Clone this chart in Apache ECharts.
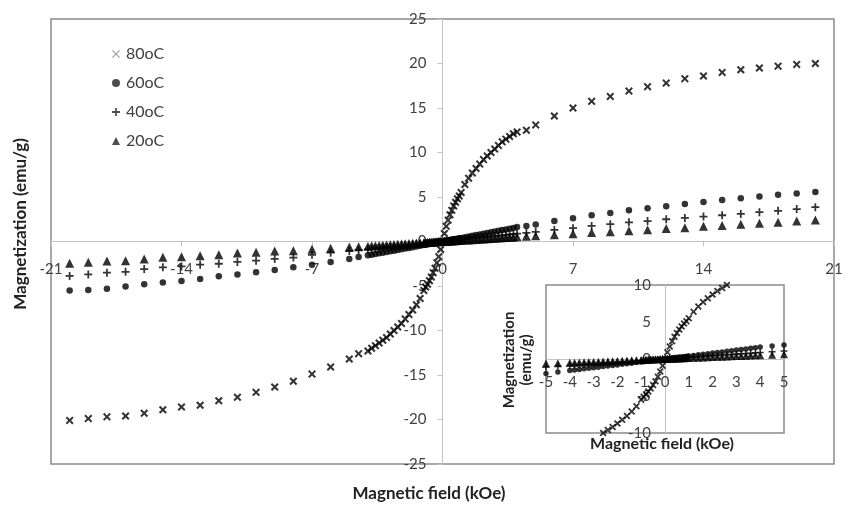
<!DOCTYPE html>
<html>
<head>
<meta charset="utf-8">
<script src="https://cdn.jsdelivr.net/npm/echarts@6/dist/echarts.min.js"></script>
<style>html,body{margin:0;padding:0;background:#fff}#c{width:850px;height:506px}</style>
</head>
<body>
<div id="c"></div>
<script>
// Magnetic field (kOe)
var H = [-20,-19,-18,-17,-16,-15,-14,-13,-12,-11,-10,-9,-8,-7,-6,-5,-4.5,
  -4,-3.8,-3.6,-3.4,-3.2,-3,-2.8,-2.6,-2.4,-2.2,-2,-1.8,-1.6,-1.4,-1.2,
  -1,-0.9,-0.8,-0.7,-0.6,-0.5,-0.4,-0.3,-0.2,-0.1,0,0.1,0.2,0.3,0.4,0.5,0.6,0.7,0.8,0.9,1,
  1.2,1.4,1.6,1.8,2,2.2,2.4,2.6,2.8,3,3.2,3.4,3.6,3.8,4,
  4.5,5,6,7,8,9,10,11,12,13,14,15,16,17,18,19,20];

// Magnetization (emu/g)
var M80 = [-20.1,-19.9,-19.7,-19.6,-19.3,-18.9,-18.6,-18.4,-17.9,-17.5,-16.95,-16.35,-15.7,-14.9,-14.1,-13.2,-12.6,
  -12.3,-12.0,-11.7,-11.4,-11.1,-10.8,-10.4,-10.0,-9.6,-9.2,-8.7,-8.2,-7.7,-7.1,-6.4,
  -5.5,-5.1,-4.8,-4.4,-4.0,-3.5,-3.0,-2.4,-1.7,-0.9,0,0.9,1.7,2.4,3.0,3.5,4.0,4.4,4.8,5.1,5.5,
  6.4,7.1,7.7,8.2,8.7,9.2,9.6,10.0,10.4,10.8,11.2,11.5,11.8,12.1,12.3,
  12.5,13.1,14.1,15.0,15.75,16.3,16.9,17.4,17.8,18.3,18.6,19.0,19.3,19.5,19.7,19.9,20.0];
var M60 = [-5.5,-5.44,-5.3,-5.07,-4.8,-4.6,-4.43,-4.2,-3.9,-3.7,-3.45,-3.2,-2.9,-2.6,-2.3,-1.96,-1.75,
  -1.55,-1.48,-1.41,-1.33,-1.26,-1.18,-1.1,-1.03,-0.95,-0.87,-0.8,-0.72,-0.64,-0.56,-0.48,
  -0.4,-0.36,-0.32,-0.28,-0.24,-0.2,-0.16,-0.12,-0.08,-0.04,0,0.04,0.08,0.12,0.16,0.2,0.24,0.28,0.32,0.36,0.4,
  0.48,0.56,0.64,0.72,0.8,0.88,0.96,1.04,1.12,1.2,1.28,1.36,1.44,1.52,1.62,
  1.75,1.9,2.3,2.6,2.95,3.2,3.5,3.75,3.95,4.2,4.45,4.65,4.85,5.05,5.25,5.4,5.55];
var M40 = [-3.87,-3.7,-3.5,-3.4,-3.1,-2.9,-2.8,-2.6,-2.5,-2.3,-2.15,-1.96,-1.8,-1.5,-1.25,-1.07,-0.95,
  -0.88,-0.84,-0.79,-0.75,-0.7,-0.66,-0.62,-0.57,-0.53,-0.48,-0.44,-0.4,-0.35,-0.31,-0.26,
  -0.22,-0.2,-0.18,-0.15,-0.13,-0.11,-0.09,-0.07,-0.04,-0.02,0,0.02,0.04,0.07,0.09,0.11,0.13,0.15,0.18,0.2,0.22,
  0.26,0.31,0.35,0.4,0.44,0.48,0.53,0.57,0.62,0.66,0.7,0.75,0.79,0.84,0.88,
  0.97,1.08,1.3,1.5,1.75,1.95,2.15,2.3,2.5,2.65,2.8,2.95,3.1,3.3,3.45,3.65,3.85];
var M20 = [-2.45,-2.33,-2.2,-2.15,-1.96,-1.77,-1.7,-1.6,-1.5,-1.3,-1.2,-1.07,-1.03,-0.87,-0.76,-0.62,-0.58,
  -0.52,-0.49,-0.47,-0.44,-0.42,-0.39,-0.36,-0.34,-0.31,-0.29,-0.26,-0.23,-0.21,-0.18,-0.16,
  -0.13,-0.12,-0.1,-0.09,-0.08,-0.07,-0.05,-0.04,-0.03,-0.01,0,0.01,0.03,0.04,0.05,0.07,0.08,0.09,0.1,0.12,0.13,
  0.16,0.18,0.21,0.23,0.26,0.29,0.31,0.34,0.36,0.39,0.42,0.44,0.47,0.49,0.52,
  0.58,0.64,0.76,0.87,1.0,1.1,1.2,1.32,1.45,1.55,1.7,1.8,1.95,2.05,2.15,2.3,2.42];

var seriesNames = ['80oC','60oC','40oC','20oC'];
var seriesValues = [M80, M60, M40, M20];

var FONT = 'Lato';
var symX = 'path://M0,1.8 L1.8,0 L5,3.2 L8.2,0 L10,1.8 L6.8,5 L10,8.2 L8.2,10 L5,6.8 L1.8,10 L0,8.2 L3.2,5 Z';
var symXthin = 'path://M0,1 L1,0 L5,4 L9,0 L10,1 L6,5 L10,9 L9,10 L5,6 L1,10 L0,9 L4,5 Z';
var symPlus = 'path://M3.9,0 H6.1 V3.9 H10 V6.1 H6.1 V10 H3.9 V6.1 H0 V3.9 H3.9 Z';
var symbols = [symX, 'circle', symPlus, 'triangle'];
var legendIcons = [symXthin, 'circle', symPlus, 'triangle'];
var sizes = [8, 6.5, 8, 9];

function pairs(vals){ return H.map(function(h,i){ return [h, vals[i]]; }); }

var series = [];
[3,2,1,0].forEach(function(k){
  series.push({
    name: seriesNames[k], type: 'scatter', xAxisIndex: 0, yAxisIndex: 0,
    data: pairs(seriesValues[k]), symbol: symbols[k], symbolSize: sizes[k],
    itemStyle: {color: '#000'}, clip: true, silent: true, z: 2
  });
});
[3,2,1,0].forEach(function(k){
  series.push({
    name: seriesNames[k], type: 'scatter', xAxisIndex: 1, yAxisIndex: 1,
    data: pairs(seriesValues[k]), symbol: symbols[k], symbolSize: sizes[k] - 1,
    itemStyle: {color: '#000'}, clip: true, silent: true, z: 5
  });
});

var axisLabelStyle = {fontFamily: FONT, fontSize: 15, color: '#404040'};

var chart = echarts.init(document.getElementById('c'), null, {renderer: 'canvas'});
chart.setOption({
  animation: false,
  backgroundColor: '#fff',
  textStyle: {fontFamily: FONT},
  legend: {
    orient: 'vertical', left: 107, top: 41,
    data: seriesNames.map(function(n, k){ return {name: n, icon: legendIcons[k], itemStyle: {color: k === 0 ? '#888' : '#222'}}; }),
    itemWidth: 8, itemHeight: 8, itemGap: 13,
    textStyle: {fontFamily: FONT, fontSize: 16, color: '#404040', lineHeight: 15, padding: [0,0,0,1]},
    selectedMode: false
  },
  grid: [
    {left: 51, top: 19, width: 783, height: 445, show: true, borderColor: '#8a8a8a', borderWidth: 1.5, backgroundColor: '#fff', z: 0},
    {left: 546, top: 285, width: 238, height: 148, show: true, borderColor: '#8a8a8a', borderWidth: 1.5, backgroundColor: '#fff', z: 3}
  ],
  xAxis: [
    {type: 'value', gridIndex: 0, min: -21, max: 21, interval: 7, position: 'bottom', offset: -222.5,
     axisLine: {onZero: false, lineStyle: {color: '#c4c4c4', width: 1}},
     axisTick: {show: true, length: 5, lineStyle: {color: '#c4c4c4'}},
     axisLabel: Object.assign({margin: 20, showMinLabel: true, showMaxLabel: true}, axisLabelStyle),
     splitLine: {show: false}},
    {type: 'value', gridIndex: 1, min: -5, max: 5, interval: 1, position: 'bottom', offset: -74,
     axisLine: {onZero: false, lineStyle: {color: '#c4c4c4', width: 1}},
     axisTick: {show: false},
     axisLabel: Object.assign({margin: 16, showMinLabel: true, showMaxLabel: true}, axisLabelStyle),
     splitLine: {show: false}, z: 4}
  ],
  yAxis: [
    {type: 'value', gridIndex: 0, min: -25, max: 25, interval: 5, position: 'left', offset: -391.5,
     axisLine: {onZero: false, lineStyle: {color: '#c4c4c4', width: 1}},
     axisTick: {show: true, length: 5, lineStyle: {color: '#c4c4c4'}},
     axisLabel: Object.assign({margin: 16}, axisLabelStyle),
     splitLine: {show: false}},
    {type: 'value', gridIndex: 1, min: -10, max: 10, interval: 5, position: 'left', offset: -119,
     axisLine: {onZero: false, lineStyle: {color: '#c4c4c4', width: 1}},
     axisTick: {show: false},
     axisLabel: Object.assign({margin: 14}, axisLabelStyle),
     splitLine: {show: false}, z: 4}
  ],
  graphic: [
    {type: 'text', x: 21, y: 224, rotation: Math.PI / 2, z: 10,
     style: {text: 'Magnetization (emu/g)', font: 'bold 17px ' + FONT, fill: '#222', align: 'center', verticalAlign: 'middle'}},
    {type: 'text', x: 429, y: 494, z: 10,
     style: {text: 'Magnetic field (kOe)', font: 'bold 17px ' + FONT, fill: '#222', align: 'center', verticalAlign: 'middle'}},
    {type: 'text', x: 518, y: 360, rotation: Math.PI / 2, z: 10,
     style: {text: 'Magnetization\n(emu/g)', font: 'bold 15px ' + FONT, fill: '#222', align: 'center', verticalAlign: 'middle', lineHeight: 17}},
    {type: 'text', x: 662, y: 444, z: 10,
     style: {text: 'Magnetic field (kOe)', font: 'bold 16px ' + FONT, fill: '#222', align: 'center', verticalAlign: 'middle'}}
  ],
  series: series
});
</script>
</body>
</html>
